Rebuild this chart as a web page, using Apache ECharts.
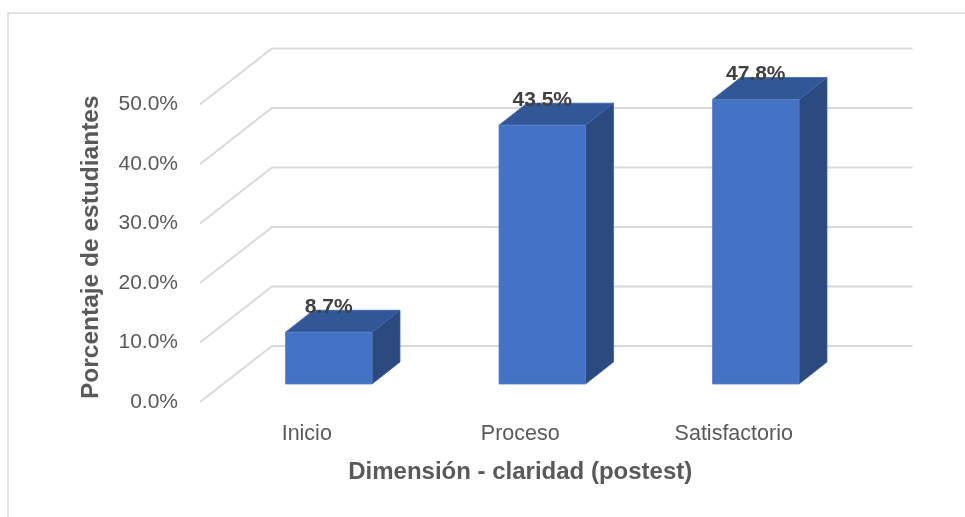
<!DOCTYPE html>
<html>
<head>
<meta charset="utf-8">
<script src="https://cdn.jsdelivr.net/npm/echarts@6/dist/echarts.min.js"></script>
<style>
  html, body { margin: 0; padding: 0; background: #fff; }
  #main { width: 965px; height: 517px; }
</style>
</head>
<body>
<div id="main"></div>
<script>
var categories = ['Inicio', 'Proceso', 'Satisfactorio'];
var values = [8.7, 43.5, 47.8];
var yTicks = [0, 10, 20, 30, 40, 50];

// perspective offsets (px)
var wallDx = 72, wallDy = -56;   // front of floor -> back wall
var barDx = 22, barDy = -18;     // front of floor -> bar front face
var depthDx = 28, depthDy = -22; // bar front face -> bar back face

var chart = echarts.init(document.getElementById('main'));
var font = 'Liberation Sans, Arial, sans-serif';

chart.setOption({
  backgroundColor: '#ffffff',
  animation: false,
  graphic: [{
    type: 'rect',
    shape: { x: 8, y: 13, width: 1000, height: 600 },
    style: { fill: 'none', stroke: '#d9d9d9', lineWidth: 1.5 },
    silent: true
  }],
  grid: { left: 200, right: 124.5, top: 104.5, bottom: 115 },
  xAxis: {
    type: 'category',
    data: categories,
    axisLine: { show: false },
    axisTick: { show: false },
    axisLabel: { color: '#595959', fontSize: 21.5, fontFamily: font, margin: 21 },
    name: 'Dimensión - claridad (postest)',
    nameLocation: 'middle',
    nameGap: 58,
    nameTextStyle: { color: '#595959', fontSize: 24, fontWeight: 'bold', fontFamily: font }
  },
  yAxis: {
    type: 'value',
    min: 0,
    max: 50,
    interval: 10,
    splitLine: { show: false },
    axisLine: { show: false },
    axisTick: { show: false },
    axisLabel: {
      color: '#595959', fontSize: 21, fontFamily: font, margin: 22,
      formatter: function (v) { return v.toFixed(1) + '%'; }
    },
    name: 'Porcentaje de estudiantes',
    nameLocation: 'middle',
    nameGap: 96,
    nameTextStyle: { color: '#595959', fontSize: 24.5, fontWeight: 'bold', fontFamily: font, padding: [0, 0, 0, 12] }
  },
  series: [{
    // gridlines drawn as side wall + back wall
    type: 'custom',
    silent: true,
    data: yTicks.map(function (t) { return [0, t]; }),
    renderItem: function (params, api) {
      var v = api.value(1);
      var bw = api.size([1, 0])[0];
      var l = api.coord([0, v]);
      var r = api.coord([categories.length - 1, v]);
      var x0 = l[0] - bw / 2, y0 = l[1];
      var x2 = r[0] + bw / 2 + wallDx;
      return {
        type: 'polyline',
        shape: { points: [[x0, y0], [x0 + wallDx, y0 + wallDy], [x2, y0 + wallDy]] },
        style: { stroke: '#d9d9d9', lineWidth: 1.8, fill: null }
      };
    }
  }, {
    type: 'custom',
    data: values.map(function (v, i) { return [i, v]; }),
    renderItem: function (params, api) {
      var i = api.value(0), v = api.value(1);
      var bw = api.size([1, 0])[0];
      var w = bw * 0.405;
      var top = api.coord([i, v]);
      var base = api.coord([i, 0]);
      var xl = top[0] + barDx - w / 2, xr = xl + w;
      var yt = top[1] + barDy, yb = base[1] + barDy;
      return {
        type: 'group',
        children: [{
          type: 'polygon',
          shape: { points: [[xr, yt], [xr + depthDx, yt + depthDy], [xr + depthDx, yb + depthDy], [xr, yb]] },
          style: { fill: '#2b4a80', stroke: '#3a5d99', lineWidth: 0.8 }
        }, {
          type: 'polygon',
          shape: { points: [[xl, yt], [xr, yt], [xr + depthDx, yt + depthDy], [xl + depthDx, yt + depthDy]] },
          style: { fill: '#325797', stroke: '#3f65a8', lineWidth: 0.8 }
        }, {
          type: 'rect',
          shape: { x: xl, y: yt, width: w, height: yb - yt },
          style: { fill: '#4472c4', stroke: '#5580cc', lineWidth: 0.8 }
        }, {
          type: 'text',
          style: {
            text: v.toFixed(1) + '%',
            x: top[0] + barDx, y: yt - 25,
            align: 'center', verticalAlign: 'middle',
            fill: '#404040', fontSize: 21, fontWeight: 'bold', fontFamily: font
          }
        }]
      };
    }
  }]
});
</script>
</body>
</html>
